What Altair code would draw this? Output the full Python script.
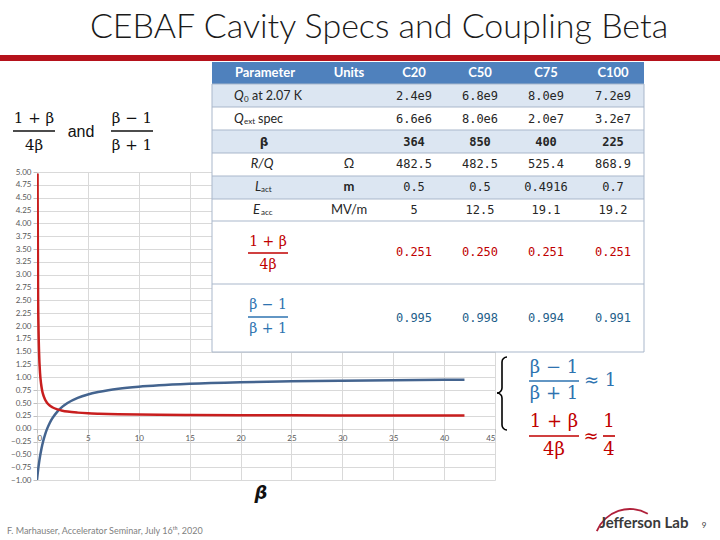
import math
import altair as alt
import pandas as pd

# ---------------- data ----------------
beta_red = [0.053, 0.1, 0.15, 0.2, 0.3, 0.4, 0.5, 0.6, 0.8, 1, 1.25, 1.5, 2, 2.5, 3, 4,
            5, 6, 7, 8, 10, 12, 15, 20, 25, 30, 35, 40, 42]
red_vals = [4.97, 2.75, 1.92, 1.50, 1.08, 0.875, 0.75, 0.667, 0.5625, 0.5, 0.45, 0.417,
            0.375, 0.35, 0.333, 0.3125, 0.30, 0.292, 0.286, 0.281, 0.275, 0.271, 0.267,
            0.2625, 0.26, 0.258, 0.257, 0.256, 0.256]
beta_blue = [0, 0.05, 0.1, 0.2, 0.3, 0.4, 0.5, 0.6, 0.8, 1, 1.25, 1.5, 2, 2.5, 3, 4,
             5, 6, 7, 8, 10, 12, 15, 20, 25, 30, 35, 40, 42]
blue_vals = [-1.0, -0.905, -0.818, -0.667, -0.538, -0.429, -0.333, -0.25, -0.111, 0.0,
             0.111, 0.2, 0.333, 0.429, 0.5, 0.6, 0.667, 0.714, 0.75, 0.778, 0.818, 0.846,
             0.875, 0.905, 0.923, 0.935, 0.944, 0.951, 0.953]
x_ticks = [0, 5, 10, 15, 20, 25, 30, 35, 40, 45]
y_ticks = [-1.0, -0.75, -0.5, -0.25, 0.0, 0.25, 0.5, 0.75, 1.0, 1.25, 1.5, 1.75, 2.0,
           2.25, 2.5, 2.75, 3.0, 3.25, 3.5, 3.75, 4.0, 4.25, 4.5, 4.75, 5.0]

header = ["Parameter", "Units", "C20", "C50", "C75", "C100"]
q0_vals = ["2.4e9", "6.8e9", "8.0e9", "7.2e9"]
qext_vals = ["6.6e6", "8.0e6", "2.0e7", "3.2e7"]
beta_vals = ["364", "850", "400", "225"]
rq_vals = ["482.5", "482.5", "525.4", "868.9"]
lact_vals = ["0.5", "0.5", "0.4916", "0.7"]
eacc_vals = ["5", "12.5", "19.1", "19.2"]
units = ["Ω", "m", "MV/m"]
red_row = ["0.251", "0.250", "0.251", "0.251"]
blue_row = ["0.995", "0.998", "0.994", "0.991"]

title = "CEBAF Cavity Specs and Coupling Beta"
footer = "F. Marhauser, Accelerator Seminar, July 16ᵗʰ, 2020"

# ---------------- layout ----------------
OX, OY = 37, 172          # plot origin on the slide
W, H = 458, 308           # plot size
RED = "#C81E1E"
BLUE = "#44648F"
FRED = "#C00000"
FBLUE = "#2E73B0"

col_x = [265, 349, 414, 480, 546, 613]


def text_layer(items, **kw):
    df = pd.DataFrame([{"x": x - OX, "y": y - OY, "t": t} for x, y, t in items])
    return alt.Chart(df).mark_text(**kw).encode(
        x=alt.X("x:Q", scale=None, axis=None),
        y=alt.Y("y:Q", scale=None, axis=None),
        text=alt.Text("t:N"))


def rect_layer(items, **kw):
    df = pd.DataFrame([{"x": a - OX, "x2": b - OX, "y": c - OY, "y2": d - OY, "f": f}
                       for a, b, c, d, f in items])
    return alt.Chart(df).mark_rect(**kw).encode(
        x=alt.X("x:Q", scale=None, axis=None), x2="x2:Q",
        y=alt.Y("y:Q", scale=None, axis=None), y2="y2:Q",
        color=alt.Color("f:N", scale=None))


def rule_layer(items, color, width):
    df = pd.DataFrame([{"x": a - OX, "x2": b - OX, "y": c - OY, "y2": d - OY}
                       for a, b, c, d in items])
    return alt.Chart(df).mark_rule(color=color, strokeWidth=width).encode(
        x=alt.X("x:Q", scale=None, axis=None), x2="x2:Q",
        y=alt.Y("y:Q", scale=None, axis=None), y2="y2:Q")


one = pd.DataFrame({"a": [0]})


def arc_layer(cx, cy, r, t1, t2, color="black", thick=1.6):
    return alt.Chart(one).mark_arc(innerRadius=r - thick / 2, outerRadius=r + thick / 2,
                                   theta=t1, theta2=t2, color=color).encode(
        x=alt.value(cx - OX), y=alt.value(cy - OY))


# ---------------- curves ----------------
xs = alt.Scale(domain=[0, 45], nice=False, zero=False)
ys = alt.Scale(domain=[-1, 5], nice=False, zero=False)
xaxis = alt.Axis(values=x_ticks, grid=True, gridColor="#D9D9D9", gridWidth=1, domain=False,
                 tickColor="#BFBFBF", tickSize=4, labelFontSize=8, labelColor="#595959",
                 labelFont="Lato", labelPadding=2, offset=-51.33, title=None)
yaxis = alt.Axis(values=y_ticks, format=".2f", grid=True, gridColor="#D9D9D9", gridWidth=1,
                 domain=False, tickColor="#BFBFBF", tickSize=4, labelFontSize=8,
                 labelColor="#595959", labelFont="Lato", labelPadding=2, title=None)

red_df = pd.DataFrame({"beta": beta_red, "val": red_vals})
blue_df = pd.DataFrame({"beta": beta_blue, "val": blue_vals})

red_line = alt.Chart(red_df).mark_line(color=RED, strokeWidth=2.5, interpolate="monotone",
                                       clip=True).encode(
    x=alt.X("beta:Q", scale=xs, axis=xaxis), y=alt.Y("val:Q", scale=ys, axis=yaxis))
blue_line = alt.Chart(blue_df).mark_line(color=BLUE, strokeWidth=2.5, interpolate="monotone",
                                         clip=True).encode(
    x=alt.X("beta:Q", scale=xs, axis=xaxis), y=alt.Y("val:Q", scale=ys, axis=yaxis))

layers = [blue_line, red_line]

# ---------------- slide decorations ----------------
layers.append(rect_layer([(0, 720, 55, 61, "#B5121B")]))
layers.append(text_layer([(379, 38, title)], font="Lato", fontSize=34, fontWeight=300,
                         color="#1A1A1A", baseline="alphabetic"))

# ---------------- table ----------------
LB = "#DCE6F2"
bands = [(212, 644, 62, 84, "#4F81BD"), (212, 644, 84, 107, LB), (212, 644, 107, 130, "#FFFFFF"),
         (212, 644, 130, 153, LB), (212, 644, 153, 176, "#FFFFFF"), (212, 644, 176, 199, LB),
         (212, 644, 199, 221, "#FFFFFF"), (212, 644, 221, 284, "#FFFFFF"),
         (212, 644, 284, 352, "#FFFFFF")]
layers.append(rect_layer(bands))
layers.append(rule_layer([(212, 644, 84, 84), (212, 644, 107, 107), (212, 644, 130, 130),
                          (212, 644, 153, 153), (212, 644, 176, 176), (212, 644, 199, 199),
                          (212, 644, 221, 221), (212, 644, 284, 284), (212, 644, 352, 352),
                          (212, 212, 84, 352), (644, 644, 84, 352)], "#A9B7CB", 1))

layers.append(text_layer([(col_x[i], 73, h) for i, h in enumerate(header)], font="Lato",
                         fontSize=13, fontWeight="bold", color="white"))

num_kw = dict(font="DejaVu Sans Mono", fontSize=12, color="#262626")
plain_rows = [(96, q0_vals), (119, qext_vals), (164, rq_vals), (187, lact_vals), (210, eacc_vals)]
layers.append(text_layer([(col_x[2 + i], y, v) for y, vals in plain_rows for i, v in enumerate(vals)],
                         **num_kw))
layers.append(text_layer([(col_x[2 + i], 142, v) for i, v in enumerate(beta_vals)],
                         fontWeight="bold", **num_kw))
layers.append(text_layer([(col_x[2 + i], 252, v) for i, v in enumerate(red_row)],
                         font="DejaVu Sans Mono", fontSize=12, color=FRED))
layers.append(text_layer([(col_x[2 + i], 318, v) for i, v in enumerate(blue_row)],
                         font="DejaVu Sans Mono", fontSize=12, color="#1F5F8B"))

# units
layers.append(text_layer([(col_x[1], 164, units[0]), (col_x[1], 210, units[2])],
                         font="Lato", fontSize=13, color="#262626"))
layers.append(text_layer([(col_x[1], 187, units[1])], font="Lato", fontSize=13,
                         fontWeight="bold", color="#262626"))

# parameter names
layers.append(text_layer([(234, 96, "Q"), (234, 119, "Q"), (255, 187, "L"), (253, 210, "E")],
                         font="Lato", fontSize=13, fontStyle="italic", color="#262626",
                         align="left"))
layers.append(text_layer([(262, 164, "R/Q")], font="Lato", fontSize=13, fontStyle="italic",
                         color="#262626"))
layers.append(text_layer([(244, 100, "0"), (244, 122, "ext"), (261, 190, "act"), (261, 213, "acc")],
                         font="Lato", fontSize=8, color="#262626", align="left"))
layers.append(text_layer([(252, 96, "at 2.07 K"), (258, 119, "spec")], font="Lato",
                         fontSize=12.5, color="#262626", align="left"))
layers.append(text_layer([(264, 142, "β")], font="DejaVu Sans", fontSize=12,
                         fontWeight="bold", color="#262626"))

# ---------------- fractions ----------------
fracs = [
    (34, 118, 131, 145, 21, "1 + β", "4β", "#111111", 15),
    (132, 118, 131, 145, 21, "β − 1", "β + 1", "#111111", 15),
    (268, 242, 253, 265, 20, "1 + β", "4β", FRED, 14),
    (268, 305, 317, 329, 20, "β − 1", "β + 1", FBLUE, 14),
    (554, 368, 381, 394, 25, "β − 1", "β + 1", FBLUE, 18),
    (554, 422, 436, 450, 25, "1 + β", "4β", FRED, 18),
    (609, 422, 436, 450, 6, "1", "4", FRED, 18),
]
for cx, yn, yl, yd, hw, num, den, col, fs in fracs:
    layers.append(text_layer([(cx, yn, num), (cx, yd, den)], font="DejaVu Serif",
                             fontSize=fs, color=col))
    layers.append(rule_layer([(cx - hw, cx + hw, yl, yl)], col, 1.3 if fs < 16 else 1.6))

layers.append(text_layer([(584, 381, "≈ 1")], font="DejaVu Serif", fontSize=18, color=FBLUE,
                         align="left"))
layers.append(text_layer([(591, 437, "≈")], font="DejaVu Serif", fontSize=18, color=FRED))
layers.append(text_layer([(81, 132, "and")], font="Liberation Sans", fontSize=16,
                         color="#111111"))

# brace
layers.append(arc_layer(507, 362, 5, 1.5 * math.pi, 2 * math.pi))
layers.append(arc_layer(497, 388, 5, 0.5 * math.pi, math.pi))
layers.append(arc_layer(497, 398, 5, 0, 0.5 * math.pi))
layers.append(arc_layer(507, 425, 5, math.pi, 1.5 * math.pi))
layers.append(rule_layer([(502, 502, 362, 388), (502, 502, 398, 425)], "black", 1.6))

# axis title beta
layers.append(text_layer([(261, 494, "β")], font="DejaVu Sans", fontSize=18, fontWeight="bold",
                         fontStyle="italic", color="#111111"))

# footer
layers.append(text_layer([(7, 531, footer)], font="Lato", fontSize=9, color="#7F7F7F",
                         align="left"))
layers.append(arc_layer(630, 545, 36, 5.11, 6.8, color="#B0203A", thick=1.8))
layers.append(text_layer([(644, 523, "Jefferson Lab")], font="Lato", fontSize=15,
                         fontWeight="bold", color="#3A3A3A"))
layers.append(text_layer([(704, 526, "9")], font="Lato", fontSize=8, color="#3A3A3A"))

chart = alt.layer(*layers).properties(
    width=W, height=H,
    padding={"left": OX, "top": OY, "right": 720 - OX - W, "bottom": 540 - OY - H},
    autosize=alt.AutoSizeParams(type="none"),
    background="white",
).configure_view(stroke=None)

chart.save("out.html", embed_options={"renderer": "svg", "actions": False})
